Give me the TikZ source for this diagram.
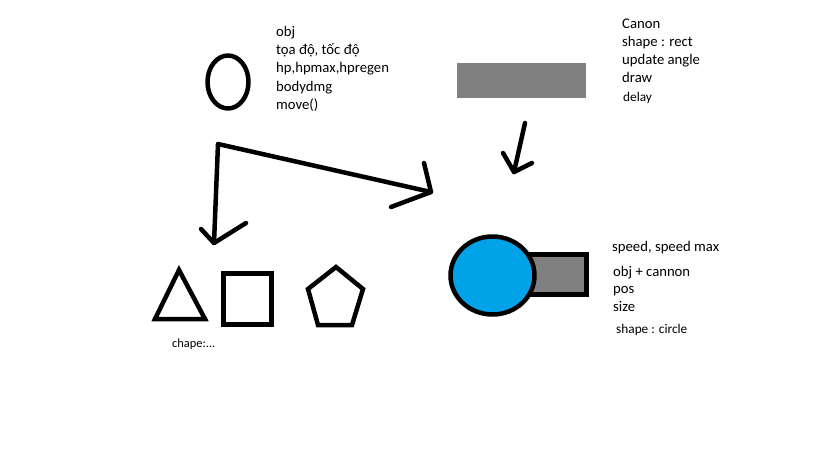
\documentclass[tikz,border=0pt]{standalone}
\usepackage{fontspec}
\setmainfont{Carlito}
\definecolor{paintblue}{RGB}{0,162,232}
\definecolor{paintgray}{RGB}{128,128,128}
\tikzset{
  stroke/.style={line width=4.5pt,line cap=round,line join=round},
  txt/.style={anchor=base west,inner sep=0pt,font=\fontsize{14.7}{17}\selectfont},
  small/.style={anchor=base west,inner sep=0pt,font=\fontsize{13.3}{15}\selectfont}
}
\begin{document}
\begin{tikzpicture}[x=1pt,y=-1pt]
  \useasboundingbox[fill=white] (0,0) rectangle (819,460);
  % obj
  \draw[stroke] (228,82) ellipse (20.5 and 26.5);
  \node[txt] (o1) at (276,37) {obj};
  \node[txt] (o2) at (276,55) {tọa độ, tốc độ};
  \node[txt] (o3) at (276,73) {hp,hpmax,hpregen};
  \node[txt] (o4) at (276,91) {bodydmg};
  \node[txt] (o5) at (276,109) {move()};
  % canon
  \fill[paintgray] (457,63) rectangle (586,98);
  \node[txt] (c1) at (622,29) {Canon};
  \node[txt] (c2) at (622,47) {shape : rect};
  \node[txt] (c3) at (622,64) {update angle};
  \node[txt] (c4) at (622,82) {draw};
  \node[small] (c5) at (623,101) {delay};
  % arrows
  \coordinate (a0) at (214,243);
  \coordinate (a1) at (218,144);
  \coordinate (a2) at (431,192);
  \draw[stroke] (a0) -- (a1) -- (a2);
  \draw[stroke] (201,229) -- (a0) -- (246,223);
  \draw[stroke] (424,163) -- (a2) -- (391,207);
  \coordinate (b0) at (525,123);
  \coordinate (b1) at (514,172);
  \draw[stroke] (b0) -- (b1);
  \draw[stroke] (503,153) -- (b1) -- (532,163);
  % shapes
  \draw[stroke,line cap=butt,line join=miter] (179,270) -- (205,319) -- (155,319) -- cycle;
  \draw[stroke,line cap=butt,line join=miter] (223.5,273.5) rectangle (271.5,324.5);
  \draw[stroke,line cap=butt,line join=miter] (336,267) -- (363,289) -- (352,325) -- (318,325) -- (308,289) -- cycle;
  \node[small,font=\fontsize{12.4}{14}\selectfont] (s1) at (172,347) {chape:...};
  % tank
  \draw[stroke,fill=paintgray,line join=miter] (520,254.5) rectangle (586.5,294.5);
  \draw[stroke,fill=paintblue] (492.5,275.5) ellipse (42 and 39);
  \node[txt] (t1) at (612,251) {speed, speed max};
  \node[txt] (t2) at (613,276) {obj + cannon};
  \node[txt] (t3) at (613,293) {pos};
  \node[txt] (t4) at (613,311) {size};
  \node[small] (t5) at (616,333) {shape : circle};
\end{tikzpicture}
\end{document}
